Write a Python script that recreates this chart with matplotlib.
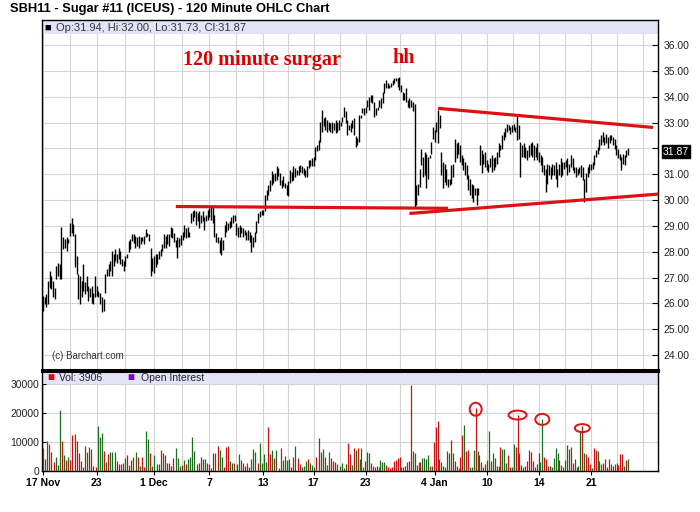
"""
Sugar #11 - grafica OHLC de 120 minutos con volumen
"""
import numpy as np
import matplotlib.pyplot as plt
from matplotlib.patches import Rectangle, Ellipse

plt.rcParams['font.family'] = ['Liberation Sans', 'DejaVu Sans']

# maximos y minimos de cada barra de 120 minutos (17 Nov - 26 Jan)
highs = [26.29, 26.23, 26.35, 26.87, 27.26, 27.06, 26.87, 26.61, 27.45, 27.58,
         27.52, 28.94, 28.55, 28.48, 28.55, 28.48, 29.13, 29.32, 29.06, 28.68,
         27.84, 27.13, 27.06, 26.87, 27.52, 26.81, 27.06, 26.68, 26.61, 26.68,
         26.42, 27.06, 26.68, 26.48, 26.42, 26.23, 26.16, 27.13,
         27.32, 27.52, 27.65, 28.03, 27.90, 28.10, 27.90, 28.16, 28.03, 27.71,
         27.65, 27.84, 27.90, 28.42, 28.48, 28.68, 28.68, 28.61, 28.55, 28.61,
         28.55, 28.55, 28.61, 28.87, 28.74, 28.68, 28.16, 27.77, 27.84, 27.90,
         27.90, 28.03, 28.10, 28.29, 28.68, 28.61, 28.68, 28.68,
         28.97, 28.91, 28.71, 28.45, 28.58, 28.52, 28.65, 28.78, 29.04, 28.91,
         28.97, 28.78, 29.49, 29.56, 29.62, 29.56, 29.49, 29.56, 29.43, 29.56,
         29.36, 29.43, 29.62, 29.69, 29.75, 29.75, 29.43, 28.71, 28.58, 28.45,
         28.58, 28.45, 29.04, 29.17, 29.10, 29.17, 29.36, 29.43, 29.43, 29.10,
         28.97, 29.04, 28.97, 28.91, 28.84, 28.78, 28.84, 28.78, 28.65, 28.58,
         28.78, 29.17, 29.49, 29.56, 29.62, 29.62, 30.21, 30.40, 30.60, 30.79,
         31.12, 30.99, 31.05, 31.31, 31.25, 31.05, 30.79, 30.92, 30.66, 30.60,
         30.73, 31.18,
         31.10, 31.30, 31.23, 31.17, 31.30, 31.36, 31.30, 31.23, 31.17, 31.30,
         31.55, 31.55, 31.62, 31.68, 32.07, 32.14, 32.33, 33.04, 33.49, 33.17,
         33.23, 33.10, 33.04, 32.97, 33.04, 32.97, 33.10, 33.04, 33.10, 33.04,
         33.23, 33.62, 33.43, 33.10, 32.91, 32.97, 33.10, 33.17, 32.46, 32.40,
         33.30, 33.30, 33.55, 33.55, 33.62, 33.88, 33.99, 34.07, 34.07, 33.81,
         33.55, 33.62, 33.88, 33.94, 34.20, 34.52, 34.65, 34.52, 34.46, 34.52,
         34.65, 34.72, 34.72, 34.72, 34.78, 34.46, 34.20, 34.14, 34.33, 33.88,
         33.94, 33.88, 33.81, 33.70,
         30.57, 30.64, 31.22, 31.99, 31.67, 31.86, 31.80, 31.67, 31.74, 32.25,
         32.83, 32.70, 33.03, 33.48, 33.28, 31.86, 31.48, 31.41, 31.22, 30.83,
         30.83, 31.35, 31.41, 32.38, 32.19, 32.25, 32.12, 31.74, 31.61, 31.48,
         31.35, 30.96, 30.83, 30.64, 30.57, 30.45, 30.45, 30.45, 32.12, 31.93,
         31.80, 31.86, 31.54, 31.41, 31.61, 31.74, 31.61, 31.67, 31.86, 32.19,
         32.12, 32.51, 32.64, 32.77, 32.96, 32.90, 32.83, 32.90, 32.96, 32.83,
         33.28, 32.90, 32.25, 32.12, 32.19, 32.06, 31.93, 32.12, 32.19, 32.25,
         32.12, 32.06, 32.19, 31.86, 31.74, 31.67, 31.35, 31.22, 31.41, 31.35,
         31.28, 31.41, 31.35, 31.48, 31.22, 31.41, 31.61, 31.48, 31.48, 31.54,
         31.61, 31.41, 31.74, 31.61, 31.28, 31.28, 31.22, 31.28, 31.35, 31.28,
         30.83, 31.03, 31.28, 31.41, 31.41, 31.48, 31.74, 31.93, 32.06, 32.38,
         32.51, 32.64, 32.45, 32.57, 32.45, 32.51, 32.51, 32.45, 32.38, 32.12,
         31.99, 31.80, 31.67, 31.80, 31.74, 31.93, 32.00]

lows = [25.71, 25.97, 25.84, 25.97, 26.61, 26.55, 26.23, 26.16, 26.94, 27.06,
        26.94, 26.94, 28.10, 28.16, 28.03, 28.35, 28.61, 28.74, 28.61, 27.39,
        27.13, 26.16, 25.97, 26.23, 26.48, 26.35, 26.48, 26.10, 26.23, 26.03,
        25.97, 26.23, 26.29, 26.23, 25.97, 25.65, 25.71, 26.42,
        27.06, 27.06, 27.26, 27.06, 27.45, 27.65, 27.58, 27.71, 27.52, 27.45,
        27.26, 27.45, 27.77, 27.97, 28.10, 28.42, 28.35, 28.16, 28.23, 28.16,
        28.29, 28.42, 28.29, 28.55, 28.61, 28.42, 27.06, 27.26, 27.19, 27.39,
        27.52, 27.71, 27.84, 28.03, 28.16, 28.16, 28.29, 28.23,
        28.58, 28.52, 28.39, 28.19, 27.74, 28.19, 28.26, 28.45, 28.58, 28.52,
        28.58, 28.58, 29.10, 29.17, 29.36, 29.04, 29.17, 28.91, 29.10, 29.17,
        28.84, 29.17, 29.23, 29.36, 29.23, 29.10, 28.58, 28.39, 28.32, 27.94,
        27.87, 28.06, 28.58, 28.78, 28.84, 28.91, 28.97, 29.10, 29.17, 28.65,
        28.58, 28.58, 28.71, 28.58, 28.65, 28.45, 28.45, 28.39, 28.00, 28.19,
        28.39, 28.71, 29.10, 29.36, 29.43, 29.43, 29.56, 30.01, 30.21, 30.34,
        30.60, 30.66, 30.73, 30.79, 30.92, 30.60, 30.47, 30.53, 30.47, 30.21,
        30.14, 30.66,
        30.72, 30.78, 30.91, 30.97, 30.97, 31.10, 31.04, 30.97, 30.91, 30.91,
        31.23, 31.30, 31.30, 31.30, 31.55, 31.88, 31.94, 32.26, 32.65, 32.85,
        32.72, 32.65, 32.72, 32.65, 32.59, 32.72, 32.59, 32.65, 32.72, 32.85,
        33.04, 33.23, 32.97, 32.52, 32.72, 32.65, 32.78, 32.52, 32.07, 32.14,
        32.26, 33.17, 33.36, 33.30, 33.36, 33.62, 33.49, 33.81, 33.75, 33.23,
        33.30, 33.49, 33.62, 33.55, 33.75, 34.14, 34.33, 34.33, 34.33, 34.39,
        34.46, 34.52, 34.59, 34.39, 34.26, 34.20, 33.88, 33.88, 33.81, 33.62,
        33.55, 33.62, 33.43, 29.72,
        29.80, 30.19, 30.51, 31.35, 30.90, 30.96, 30.45, 30.83, 31.61, 31.80,
        32.38, 32.25, 32.64, 32.19, 32.77, 30.96, 30.45, 30.70, 30.57, 30.51,
        30.57, 30.64, 30.90, 31.48, 31.61, 31.80, 31.48, 31.35, 31.15, 30.96,
        30.83, 30.38, 30.19, 30.06, 29.93, 30.19, 29.80, 30.19, 31.35, 31.03,
        31.41, 31.28, 31.15, 31.09, 31.28, 31.09, 31.15, 31.28, 31.41, 31.67,
        31.93, 31.99, 32.32, 32.45, 32.64, 32.70, 32.57, 32.64, 32.70, 32.64,
        32.32, 32.38, 30.90, 31.67, 31.67, 31.61, 31.54, 31.67, 31.74, 31.67,
        31.54, 31.67, 31.54, 31.48, 31.35, 31.09, 30.96, 30.32, 30.64, 30.96,
        30.83, 30.96, 30.96, 30.83, 30.51, 30.96, 30.90, 30.96, 31.22, 31.28,
        30.96, 31.09, 31.28, 31.15, 31.03, 30.90, 30.96, 31.03, 30.90, 30.77,
        29.93, 30.32, 30.90, 31.03, 31.15, 31.22, 31.35, 31.67, 31.80, 31.93,
        32.12, 32.25, 32.12, 32.19, 32.00, 32.19, 32.32, 32.12, 31.99, 31.74,
        31.61, 31.54, 31.15, 31.41, 31.35, 31.67, 31.73]

# volumen (miles de contratos): 17 Nov - 22 Dic y 22 Dic - 26 Ene
vol_nov = [7.8, 4.1, 10.4, 9.3, 6.7, 3.2, 5.0, 2.0, 21.1, 10.4, 5.5, 3.8, 5.0, 3.8, 12.5,
           12.8, 10.4, 6.1, 3.5, 1.5, 8.7, 6.7, 8.2, 7.5, 1.7, 1.5, 15.6, 11.6, 13.1, 6.9,
           3.2, 5.8, 6.5, 6.5, 6.5, 3.6, 2.4, 2.4, 2.7, 4.6, 5.5, 2.1, 3.8, 4.7, 6.5,
           5.0, 1.7, 5.0, 1.5, 13.8, 11.1, 6.3, 1.7, 5.5, 2.3, 2.3, 7.3, 6.1, 5.5, 2.7,
           2.7, 1.7, 4.4, 7.8, 4.4, 1.7, 2.1, 3.8, 2.3, 4.1, 5.0, 11.6, 7.0, 2.3, 2.7,
           5.0, 4.1, 4.0, 2.7, 2.3, 0.9, 6.1, 6.3, 8.7, 7.3, 5.0, 1.5, 8.4, 8.7, 3.6,
           2.7, 2.7, 2.4, 5.9, 3.8, 2.7, 1.7, 2.7, 1.3, 4.1, 7.5, 6.5, 2.7, 9.6, 2.7,
           5.9, 3.2, 15.3, 5.8, 7.3, 4.4, 7.3, 0.9, 7.8, 3.8, 5.2, 3.8, 4.0, 1.3, 5.0,
           8.7, 4.6, 2.3, 1.3, 1.7, 3.5, 4.0, 2.7, 2.1, 1.3, 5.0, 11.3, 6.7, 7.5, 4.7,
           2.1, 6.7, 4.4, 3.6, 3.2, 2.4, 1.7, 2.7, 0.9, 2.4, 9.8]
dir_nov = ("rggrrrgggrgrgrrrrrgrrggrrrgggrgrggg"
           "rrrggrgrrgrgrrggrggggrgrgrrrgggrgrg"
           "gggrrgggrrrrgrggrrrgrgrggrrrggggrgg"
           "ggrrgrgrrggggrrgrrgggrgggrrgg")
vol_jan = [5.9, 2.1, 7.8, 7.3, 7.8, 4.0, 7.8, 1.5, 3.5, 6.5, 6.1, 2.9, 1.7, 1.5, 1.7,
           1.3, 3.8, 3.2, 3.2, 2.1, 1.3, 0.9, 1.3, 3.5, 3.8, 4.4, 5.0, 1.3, 1.3, 1.7,
           3.2, 3.6, 29.8, 7.0, 6.1, 2.1, 3.2, 3.2, 4.4, 4.6, 4.1, 5.5, 1.7, 1.7, 10.1,
           15.3, 17.3, 4.0, 3.2, 1.7, 1.5, 7.0, 6.3, 10.7, 6.1, 3.6, 1.7, 0.9, 5.0, 12.5,
           15.9, 7.0, 7.3, 1.5, 1.3, 7.3, 21.9, 7.0, 5.5, 3.2, 1.3, 2.4, 3.8, 13.8, 3.6,
           6.1, 4.4, 1.7, 1.7, 8.2, 7.5, 7.5, 2.7, 5.5, 1.3, 1.3, 9.3, 8.2, 19.4, 6.1,
           2.1, 1.3, 1.7, 3.6, 7.3, 6.7, 3.6, 1.3, 2.4, 6.1, 3.2, 17.9, 5.0, 4.1, 1.7,
           1.7, 1.3, 4.6, 7.8, 6.1, 3.8, 2.1, 1.3, 3.8, 8.8, 7.5, 8.4, 2.7, 4.1, 1.3,
           1.7, 13.3, 15.6, 6.3, 5.9, 5.0, 2.4, 0.9, 7.8, 7.3, 7.0, 3.6, 2.4, 2.9, 4.0,
           1.3, 4.0, 2.4, 1.7, 2.4, 2.7, 2.1, 5.9, 5.9, 1.7, 3.8, 4.0]
dir_jan = ("rgrgrgggrggrgrrrgggrrrrrrrrgrrgrr"
           "ggrgrggggrgrrrrgggggrgrgrrrgrrgggrgr"
           "rggrggggggrgggrrggrrrggrrrrrrgrggrrg"
           "rggggrrggggrrggggrgrrrgrrgggrrrrrrggrr")

tick_labels = ['17 Nov', '23', '1 Dec', '7', '13', '17', '23', '4 Jan', '10', '14', '21']
tick_bars = [0, 32, 66, 99, 131, 161, 192, 233, 264, 295, 326]

# lineas dibujadas a mano (indice de barra, precio)
soporte = ([79, 241], [29.75, 29.68])
canal_inf = ([218, 366], [29.48, 30.23])
canal_sup = ([235, 363], [33.55, 32.81])
circulos = [66, 88, 101, 122]           # barras de volumen marcadas (vol_jan)
circ_y = [21.3, 19.3, 17.8, 14.8]
circ_w = [12, 18, 14, 15]               # px
circ_h = [13, 9, 11, 8]                 # px

W, H = 700, 512
def fx(px):
    return px / W
def fy(py):
    return 1 - py / H

n = len(highs)
x = np.arange(n)
pxbar = 585 / (n - 1)                   # pixeles por barra
xlim = (-1 / pxbar, 615 / pxbar)

fig = plt.figure(figsize=(7, 5.12), dpi=100)
ax = fig.add_axes([fx(42), fy(370), fx(616), (370 - 20) / H])
av = fig.add_axes([fx(42), fy(471), fx(616), (471 - 371) / H])

grid_c = '#d4d4d4'
mids = [(a + b) / 2 for a, b in zip(tick_bars[:-1], tick_bars[1:])] + [tick_bars[-1] + 15.5, tick_bars[-1] + 31]

# panel de precio
ax.vlines(x, lows, highs, color='black', lw=1.0, zorder=3)
ax.set_xlim(xlim)
ax.set_ylim(23.42, 36.97)
ax.yaxis.tick_right()
niveles = np.arange(24, 37)
ax.set_yticks(niveles)
# la etiqueta 32.00 queda tapada por el ultimo precio
ax.set_yticklabels(['' if v == 32 else '%.2f' % v for v in niveles])
ax.tick_params(axis='y', direction='in', length=4, labelsize=7.5, labelcolor='#222222', pad=4)
ax.set_xticks(tick_bars)
ax.set_xticks(mids, minor=True)
ax.tick_params(axis='x', which='both', length=0, labelbottom=False)
ax.grid(True, which='both', color=grid_c, lw=0.8, zorder=0)
for s in ax.spines.values():
    s.set_linewidth(1.0)
ax.spines['bottom'].set_linewidth(2.2)
ax.add_patch(Rectangle((0, 1 - 14 / 350), 1, 14 / 350, transform=ax.transAxes,
                       facecolor='#e3e3f7', edgecolor='none', zorder=2))

rojo = '#dd1111'
for lx, ly in (soporte, canal_inf, canal_sup):
    ax.plot(lx, ly, color=rojo, lw=2.3, solid_capstyle='butt', zorder=4, clip_on=False)

ax.text(1.008, 31.87, '31.87', transform=ax.get_yaxis_transform(), fontsize=7.5,
        color='white', va='center', ha='left',
        bbox=dict(boxstyle='square,pad=0.12', facecolor='black', edgecolor='black'))

# panel de volumen
xa = np.linspace(0, 305 / pxbar, len(vol_nov))
xb = np.linspace(307 / pxbar, n - 1, len(vol_jan))
colores = {'r': '#cc1111', 'g': '#1a6e1a'}
av.vlines(xa, 0, np.array(vol_nov) * 1000, colors=[colores[c] for c in dir_nov], lw=0.9, zorder=3)
av.vlines(xb, 0, np.array(vol_jan) * 1000, colors=[colores[c] for c in dir_jan], lw=0.9, zorder=3)
av.set_xlim(xlim)
av.set_ylim(0, 34500)
av.set_yticks([0, 10000, 20000, 30000])
av.set_yticklabels(['0', '10000', '20000', '30000'])
av.tick_params(axis='y', direction='in', length=3, labelsize=7.5, labelcolor='#222222', pad=2)
av.set_xticks(tick_bars)
av.set_xticklabels(tick_labels, fontweight='bold', fontsize=7.5)
av.set_xticks(mids, minor=True)
av.tick_params(axis='x', which='major', direction='out', length=3, pad=2)
av.tick_params(axis='x', which='minor', length=0)
av.grid(True, which='both', color=grid_c, lw=0.8, zorder=0)
for s in av.spines.values():
    s.set_linewidth(1.0)
av.spines['top'].set_linewidth(2.2)
av.add_patch(Rectangle((0, 1 - 13 / 100), 1, 13 / 100, transform=av.transAxes,
                       facecolor='#e3e3f7', edgecolor='none', zorder=2))

for k, cy, w, h in zip(circulos, circ_y, circ_w, circ_h):
    av.add_patch(Ellipse((xb[k], cy * 1000), w / pxbar, h * 10000 / 29,
                         facecolor='none', edgecolor=rojo, lw=1.4, zorder=5))

# textos
fig.text(fx(10), fy(9), 'SBH11 - Sugar #11 (ICEUS) - 120 Minute OHLC Chart',
         fontsize=9.3, fontweight='bold', va='center', ha='left')
fig.text(fx(44), fy(28), '\u25a0', fontsize=8, va='center', ha='left')
fig.text(fx(56), fy(28), 'Op:31.94, Hi:32.00, Lo:31.73, Cl:31.87', fontsize=8,
         color='#333333', va='center', ha='left')
fig.text(fx(52), fy(356), '(c) Barchart.com', fontsize=7, color='#333333', va='center')
fig.text(fx(47), fy(378), '\u25a0', fontsize=8.5, color='#ee0000', va='center')
fig.text(fx(59), fy(378), 'Vol: 3906', fontsize=7.5, color='#222222', va='center')
fig.text(fx(127), fy(378), '\u25a0', fontsize=8.5, color='#8800cc', va='center')
fig.text(fx(141), fy(378), 'Open Interest', fontsize=7.5, color='#222222', va='center')

serif = ['Liberation Serif', 'DejaVu Serif']
fig.text(fx(183), fy(60), '120 minute surgar', family=serif, fontsize=14.5,
         fontweight='bold', color='#dd0000', va='center', ha='left')
fig.text(fx(392), fy(58), 'hh', family=serif, fontsize=14.5,
         fontweight='bold', color='#dd0000', va='center', ha='left')

fig.savefig('out.png', dpi=100)
